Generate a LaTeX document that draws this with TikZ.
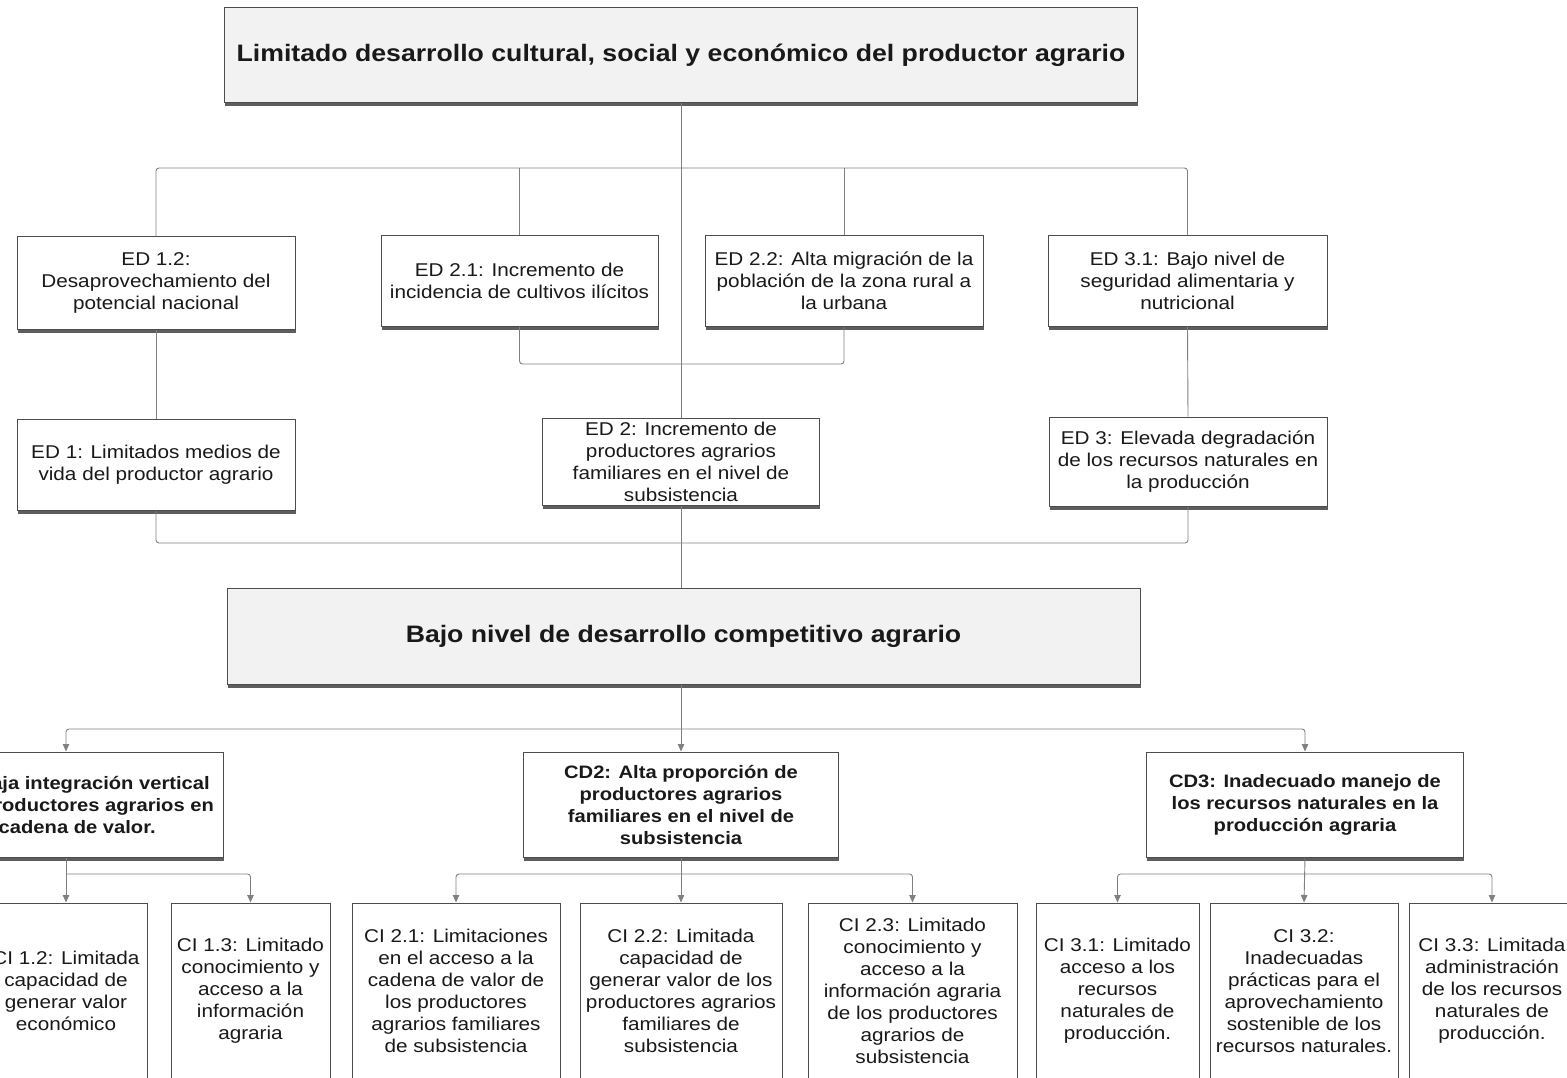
\documentclass[tikz,border=0pt]{standalone}
\usepackage{fontspec}
\setmainfont{Liberation Sans}[FakeStretch=1.12]
\usetikzlibrary{arrows.meta,shadows}
\tikzset{
  box/.style={draw=black!70, line width=1pt, fill=white, align=center, inner sep=0pt,
    font=\fontsize{18.5}{22}\selectfont, text=black!90,
    drop shadow={shadow xshift=0.5pt,shadow yshift=-3.5pt,fill=black!70,opacity=0.9}},
  bigbox/.style={box, fill=black!5, font=\fontsize{23.8}{28}\bfseries\selectfont},
  cdbox/.style={box, font=\fontsize{18}{22}\bfseries\selectfont},
  link/.style={draw=black!50, line width=0.9pt, rounded corners=3pt},
  arr/.style={link, -{Triangle[length=7.5pt,width=6.5pt]}},
}
\begin{document}
\begin{tikzpicture}[x=1pt,y=-1pt]
\useasboundingbox (0,0) rectangle (1567,1078);
\clip (0,0) rectangle (1567,1078);
% top effect
\node[bigbox, minimum width=913, minimum height=95] (top) at (681,55.5)
  {Limitado desarrollo cultural, social y económico del productor agrario};
% ED second level
\node[box, minimum width=278, minimum height=92] (ed12) at (156,283)
  {ED 1.2:\\Desaprovechamiento del\\potencial nacional};
\node[box, minimum width=277, minimum height=90] (ed21) at (519.5,281)
  {ED 2.1: Incremento de\\incidencia de cultivos ilícitos};
\node[box, minimum width=278, minimum height=90] (ed22) at (844,281)
  {ED 2.2: Alta migración de la\\población de la zona rural a\\la urbana};
\node[box, minimum width=279, minimum height=90] (ed31) at (1187.5,281)
  {ED 3.1: Bajo nivel de\\seguridad alimentaria y\\nutricional};
% ED first level
\node[box, minimum width=278, minimum height=91] (ed1) at (156,464.5)
  {ED 1: Limitados medios de\\vida del productor agrario};
\node[box, minimum width=277, minimum height=87] (ed2) at (681,461.5)
  {ED 2: Incremento de\\productores agrarios\\familiares en el nivel de\\subsistencia};
\node[box, minimum width=278, minimum height=89] (ed3) at (1188,461.5)
  {ED 3: Elevada degradación\\de los recursos naturales en\\la producción};
% central problem
\node[bigbox, minimum width=913, minimum height=96] (bajo) at (683.5,636)
  {Bajo nivel de desarrollo competitivo agrario};
% direct causes
\node[cdbox, minimum width=315, minimum height=105] (cd1) at (66,804.5)
  {CD1: Baja integración vertical\\de los productores agrarios en\\la cadena de valor.};
\node[cdbox, minimum width=315, minimum height=105] (cd2) at (681,804.5)
  {CD2: Alta proporción de\\productores agrarios\\familiares en el nivel de\\subsistencia};
\node[cdbox, minimum width=317, minimum height=105] (cd3) at (1305,804.5)
  {CD3: Inadecuado manejo de\\los recursos naturales en la\\producción agraria};
% indirect causes
\node[box, minimum width=162, minimum height=176] (ci12) at (66,991)
  {CI 1.2: Limitada\\capacidad de\\generar valor\\económico};
\node[box, minimum width=159, minimum height=176] (ci13) at (250.5,991)
  {CI 1.3: Limitado\\conocimiento y\\acceso a la\\información\\agraria};
\node[box, minimum width=208, minimum height=176] (ci21) at (456,991)
  {CI 2.1: Limitaciones\\en el acceso a la\\cadena de valor de\\los productores\\agrarios familiares\\de subsistencia};
\node[box, minimum width=202, minimum height=176] (ci22) at (681,991)
  {CI 2.2: Limitada\\capacidad de\\generar valor de los\\productores agrarios\\familiares de\\subsistencia};
\node[box, minimum width=209, minimum height=176] (ci23) at (912.5,991)
  {CI 2.3: Limitado\\conocimiento y\\acceso a la\\información agraria\\de los productores\\agrarios de\\subsistencia};
\node[box, minimum width=163, minimum height=176] (ci31) at (1117.5,991)
  {CI 3.1: Limitado\\acceso a los\\recursos\\naturales de\\producción.};
\node[box, minimum width=188, minimum height=176] (ci32) at (1304,991)
  {CI 3.2:\\Inadecuadas\\prácticas para el\\aprovechamiento\\sostenible de los\\recursos naturales.};
\node[box, minimum width=165, minimum height=176] (ci33) at (1492,991)
  {CI 3.3: Limitada\\administración\\de los recursos\\naturales de\\producción.};
% junctions
\coordinate (j1) at (681,168);
\coordinate (j2) at (681,364);
\coordinate (j3) at (681,543);
\coordinate (j4) at (681,729);
\coordinate (k1) at (66,874);
\coordinate (k2) at (681,874);
\coordinate (k3) at (1305,874);
% upper tree
\draw[link] (top.south) -- (top.south |- ed2.north);
\draw[link] (ed12.north) |- (j1) -| (ed31.north);
\draw[link] (ed21.north) -- (ed21.north |- j1);
\draw[link] (ed22.north) -- (ed22.north |- j1);
\draw[link] (ed21.south) |- (j2) -| (ed22.south);
\draw[link] (ed12.south) -- (ed1.north);
\draw[link] (ed31.south) -- (ed3.north);
\draw[link] (ed1.south) |- (j3) -| (ed3.south);
\draw[link] (ed2.south) -- (ed2.south |- bajo.north);
% lower tree
\draw[link] (bajo.south -| j4) -- (j4);
\draw[arr] (j4) -| (cd1.north);
\draw[arr] (j4) -| (cd3.north);
\draw[arr] (j4) -- (cd2.north);
\draw[arr] (cd1.south) -- (ci12.north);
\draw[arr] (k1) -| (ci13.north);
\draw[arr] (cd2.south) -- (ci22.north);
\draw[arr] (k2) -| (ci21.north);
\draw[arr] (k2) -| (ci23.north);
\draw[arr] (cd3.south) -- (ci32.north);
\draw[arr] (k3) -| (ci31.north);
\draw[arr] (k3) -| (ci33.north);
\end{tikzpicture}
\end{document}
